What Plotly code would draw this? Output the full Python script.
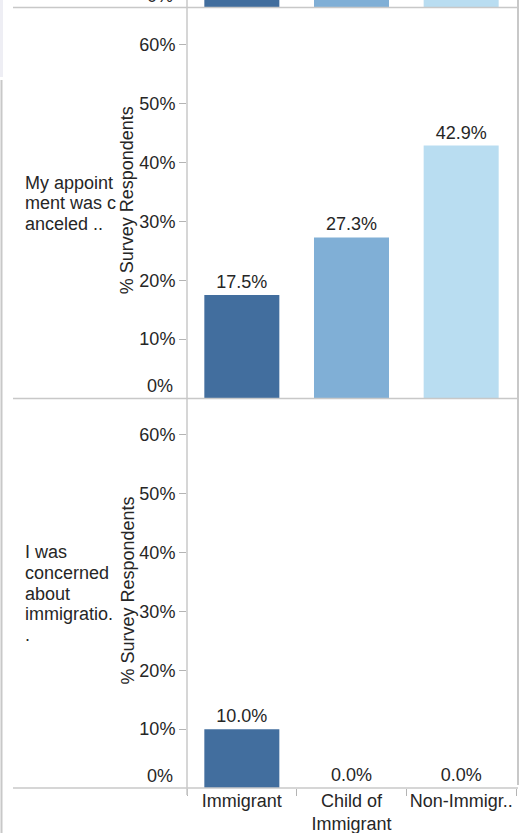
import plotly.graph_objects as go
from plotly.subplots import make_subplots

# ---------------- data ----------------
groups = ["Immigrant", "Child of<br>Immigrant", "Non-Immigr.."]
colors = ["#426E9E", "#80AFD6", "#B9DDF1"]

# row cut off at the top of the view (only the bar bases are visible; heights estimated)
prev_row_values = [25.0, 30.0, 35.0]
appointment_values = [17.5, 27.3, 42.9]
immigration_values = [10.0, 0.0, 0.0]

row_headers = [
    ["My appoint", "ment was c", "anceled .."],
    ["I was", "concerned", "about", "immigratio.", "."],
]
axis_title = "% Survey Respondents"
tick_vals = [10, 20, 30, 40, 50, 60]
tick_text = ["10%", "20%", "30%", "40%", "50%", "60%"]

# ---------------- layout helpers ----------------
W, H = 525, 833
FONT = "Liberation Sans, Arial, sans-serif"
TXT = "#262626"
LINE = "#c8c8c8"


def py(px):
    return 1 - px / H


def pxx(px):
    return px / W


fig = make_subplots(rows=3, cols=1, shared_xaxes=True, vertical_spacing=0)

series = [prev_row_values, appointment_values, immigration_values]
for r, vals in enumerate(series, start=1):
    fig.add_trace(
        go.Bar(
            x=groups,
            y=vals,
            marker=dict(color=colors, line=dict(width=0)),
            text=None if r == 1 else [f"{v:.1f}%" for v in vals],
            textposition="outside",
            textfont=dict(family=FONT, size=18, color=TXT),
            cliponaxis=True if r == 1 else False,
            showlegend=False,
            hoverinfo="skip",
        ),
        row=r,
        col=1,
    )

# vertical domains (pixel rows)
domains = [(0, 8), (8.5, 398), (399, 788)]
scale = (398 - 8.5) / 66.2

x_dom = [pxx(187), pxx(516)]
for i, (top, bot) in enumerate(domains, start=1):
    yname = "yaxis" if i == 1 else f"yaxis{i}"
    xname = "xaxis" if i == 1 else f"xaxis{i}"
    yr = [0, (bot - top) / scale]
    fig.layout[yname].update(
        domain=[py(bot), py(top)],
        range=yr,
        showgrid=False,
        zeroline=False,
        showline=False,
        tickvals=[] if i == 1 else tick_vals,
        ticktext=[] if i == 1 else tick_text,
        ticks="" if i == 1 else "outside",
        ticklen=7,
        tickwidth=1,
        tickcolor="#b4b4b4",
        tickfont=dict(family=FONT, size=18, color=TXT),
        fixedrange=True,
    )
    fig.layout[xname].update(
        domain=x_dom,
        showgrid=False,
        zeroline=False,
        showline=False,
        fixedrange=True,
    )

fig.layout.xaxis3.update(
    showticklabels=True,
    tickson="boundaries",
    ticks="outside",
    ticklen=7,
    tickwidth=1,
    tickangle=0,
    tickcolor="#b4b4b4",
    tickfont=dict(family=FONT, size=18, color=TXT),
)
fig.update_layout(bargap=0.316)

annotations = []
# zero labels (Tableau lifts the 0% label above the baseline, no tick mark)
for i in (1, 2, 3):
    yref = "y" if i == 1 else f"y{i}"
    annotations.append(
        dict(
            x=pxx(175), xref="paper", xanchor="right",
            y=0, yref=yref, yanchor="middle", yshift=12,
            text="0%", showarrow=False,
            font=dict(family=FONT, size=18, color=TXT),
        )
    )

# row headers and axis titles
LINE_H = 20.7
for (top, bot), lines in zip(domains[1:], row_headers):
    center = (top + bot) / 2
    n = len(lines)
    for k, line in enumerate(lines):
        cy = center + (k - (n - 1) / 2) * LINE_H
        annotations.append(
            dict(
                x=pxx(23), xref="paper", xanchor="left",
                y=py(cy), yref="paper", yanchor="middle",
                text=line, showarrow=False,
                font=dict(family=FONT, size=18, color=TXT),
            )
        )
    annotations.append(
        dict(
            x=pxx(127), xref="paper", xanchor="center",
            y=py(center - 3), yref="paper", yanchor="middle",
            text=axis_title, textangle=-90, showarrow=False,
            font=dict(family=FONT, size=18, color=TXT),
        )
    )

shapes = [
    # faint panel at top-left
    dict(type="rect", xref="paper", yref="paper", x0=0, x1=pxx(3), y0=py(77), y1=py(0),
         fillcolor="#eeeef4", line=dict(width=0), layer="below"),
    # left border
    dict(type="line", xref="paper", yref="paper", x0=pxx(1.5), x1=pxx(1.5), y0=py(80), y1=0,
         line=dict(color=LINE, width=2)),
    # y axis line
    dict(type="line", xref="paper", yref="paper", x0=pxx(187), x1=pxx(187), y0=py(795), y1=1,
         line=dict(color=LINE, width=1.5)),
    # right border
    dict(type="line", xref="paper", yref="paper", x0=pxx(518), x1=pxx(518), y0=py(785), y1=1,
         line=dict(color=LINE, width=2)),
]
for ypx in (7.5, 398.5, 788):
    shapes.append(
        dict(type="line", xref="paper", yref="paper", x0=pxx(13), x1=pxx(518),
             y0=py(ypx), y1=py(ypx), line=dict(color=LINE, width=1.5))
    )

fig.update_layout(
    width=W,
    height=H,
    autosize=False,
    margin=dict(l=0, r=0, t=0, b=0, pad=0),
    paper_bgcolor="white",
    plot_bgcolor="white",
    font=dict(family=FONT, size=18, color=TXT),
    annotations=annotations,
    shapes=shapes,
    showlegend=False,
)

fig.write_html(
    "out.html",
    config={"displayModeBar": False, "responsive": False},
    post_script="document.body.style.margin='0';document.body.style.overflow='hidden';",
)
